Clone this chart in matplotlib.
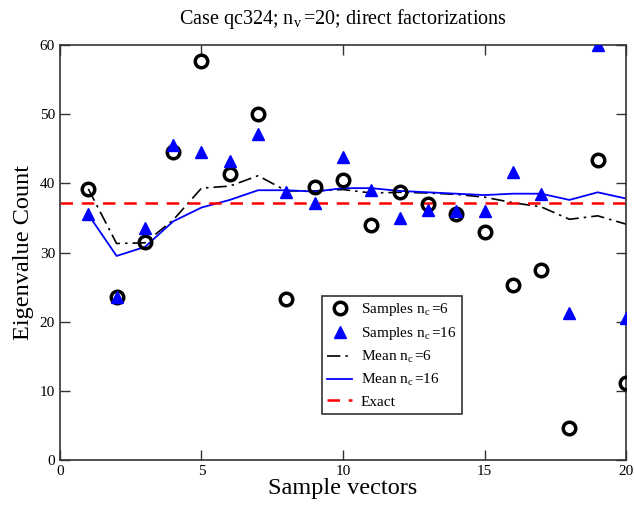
import matplotlib
matplotlib.use("Agg")
import matplotlib.pyplot as plt

x = list(range(1, 21))
samples_nc6 = [39.2, 23.5, 31.5, 44.5, 57.7, 41.3, 50.0, 23.3, 39.5, 40.5,
               34.0, 38.8, 37.0, 35.6, 33.0, 25.3, 27.5, 4.6, 43.4, 11.2]
samples_nc16 = [35.5, 23.5, 33.5, 45.5, 44.5, 43.2, 47.2, 38.8, 37.2, 43.8,
                39.0, 35.0, 36.2, 36.0, 36.0, 41.6, 38.5, 21.2, 60.0, 20.5]
mean_nc6 = [39.2, 31.3, 31.4, 34.7, 39.3, 39.6, 41.1, 38.9, 38.9, 39.1,
            38.6, 38.7, 38.6, 38.4, 38.0, 37.2, 36.6, 34.8, 35.3, 34.1]
mean_nc16 = [35.5, 29.5, 30.8, 34.5, 36.5, 37.6, 39.0, 39.0, 38.8, 39.3,
             39.3, 38.9, 38.7, 38.5, 38.3, 38.5, 38.5, 37.6, 38.7, 37.8]
exact = 37.1

plt.rcParams['font.family'] = ['Liberation Serif', 'DejaVu Serif']
plt.rcParams['mathtext.fontset'] = 'custom'
plt.rcParams['mathtext.rm'] = 'Liberation Serif'
plt.rcParams['mathtext.it'] = 'Liberation Serif'

fig = plt.figure(figsize=(6.34, 5.05), dpi=100)
ax = fig.add_axes([0.0946, 0.089, 0.8928, 0.822])

ax.plot(x, samples_nc6, linestyle='none', marker='o', markersize=9,
        markerfacecolor='none', markeredgecolor='black', markeredgewidth=2.5,
        label=r'Samples n$_\mathrm{c}\,$=6', zorder=3)
ax.plot(x, samples_nc16, linestyle='none', marker='^', markersize=9,
        color='#0000ff', label=r'Samples n$_\mathrm{c}\,$=16', zorder=3)
ax.plot(x, mean_nc6, color='black', linewidth=1.2, dashes=[8, 3, 1.5, 3],
        label=r'Mean n$_\mathrm{c}\,$=6', zorder=2)
ax.plot(x, mean_nc16, color='#0000ff', linewidth=1.3,
        label=r'Mean n$_\mathrm{c}\,$=16', zorder=2)
ax.axhline(exact, color='#ff0000', linewidth=1.8, dashes=[5, 3.5],
           label='Exact', zorder=2)

ax.set_xlim(0, 20)
ax.set_ylim(0, 60)
ax.set_xticks([0, 5, 10, 15, 20])
ax.set_yticks([0, 10, 20, 30, 40, 50, 60])
ax.tick_params(direction='in', top=True, right=True, length=7, width=1,
               labelsize=11, color='#333333')
for s in ax.spines.values():
    s.set_color('#333333')
    s.set_linewidth(1.2)

ax.set_xlabel('Sample vectors', fontsize=17.5, labelpad=0)
ax.set_ylabel('Eigenvalue Count', fontsize=17.5, labelpad=4)
ax.set_title(r'Case qc324; n$_\mathrm{v}\,$=20; direct factorizations',
             fontsize=14.5, pad=15)

leg = ax.legend(loc='upper left', bbox_to_anchor=(0.463, 0.395),
                borderaxespad=0,
                fontsize=11, frameon=True, fancybox=False, edgecolor='#333333',
                framealpha=1, handlelength=1.6, borderpad=0.35,
                labelspacing=0.45, handletextpad=0.6)
leg.get_frame().set_linewidth(1.2)

fig.savefig('out.png', dpi=100)
